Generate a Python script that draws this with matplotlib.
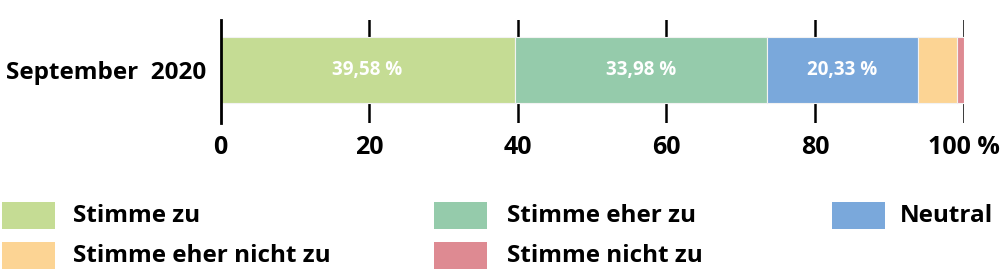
import matplotlib
matplotlib.use("Agg")
import matplotlib.pyplot as plt
from matplotlib.patches import Rectangle

plt.rcParams['font.family'] = ['Open Sans', 'DejaVu Sans']

category = "September  2020"
series = ["Stimme zu", "Stimme eher zu", "Neutral", "Stimme eher nicht zu", "Stimme nicht zu"]
values = [39.58, 33.98, 20.33, 5.20, 0.91]
colors = ["#c5dc94", "#95cbab", "#7aa8db", "#fcd494", "#de8a92"]
xticks = [0, 20, 40, 60, 80, 100]
xticklabels = ["0", "20", "40", "60", "80", "100 %"]

W, H = 1000, 276
fig = plt.figure(figsize=(W / 100, H / 100), dpi=100)
ax = fig.add_axes([220.5 / W, 1 - 123 / H, 743 / W, 103 / H])

left = 0
for v, c in zip(values, colors):
    ax.barh(0, v, left=left, height=0.64, color=c, edgecolor="#f2f2f2", linewidth=0.8, zorder=3)
    if v > 10:
        ax.text(left + v / 2, 0, f"{v:.2f} %".replace(".", ","), ha="center", va="center",
                color="white", fontsize=13.5, fontweight="bold", zorder=4)
    left += v

ax.set_xlim(0, 100)
ax.set_ylim(-0.515, 0.485)
for x in xticks[1:]:
    ax.axvline(x, color="black", linewidth=1.8, zorder=1)
for s in ["top", "right", "bottom"]:
    ax.spines[s].set_visible(False)
ax.spines["left"].set_linewidth(2)
ax.spines["left"].set_zorder(5)
ax.set_xticks(xticks)
ax.set_xticklabels(xticklabels, fontsize=18, fontweight="bold")
ax.tick_params(axis="x", length=0, pad=9)
ax.set_yticks([0])
ax.set_yticklabels([category], fontsize=17.5, fontweight="bold")
ax.tick_params(axis="y", length=0, pad=10)

# legend laid out row-wise in three columns
col_patch_x = [2, 434, 832]
col_text_x = [73, 507, 900]
row_center_y = [215.5, 255.5]
pw, ph = 53, 27
for i, (name, c) in enumerate(zip(series, colors)):
    r, col = divmod(i, 3)
    yc = row_center_y[r]
    fig.add_artist(Rectangle((col_patch_x[col] / W, 1 - (yc + ph / 2) / H), pw / W, ph / H,
                             transform=fig.transFigure, facecolor=c, edgecolor="none"))
    fig.text(col_text_x[col] / W, 1 - yc / H, name, ha="left", va="center",
             fontsize=17.5, fontweight="bold")

fig.savefig("out.png", dpi=100)
